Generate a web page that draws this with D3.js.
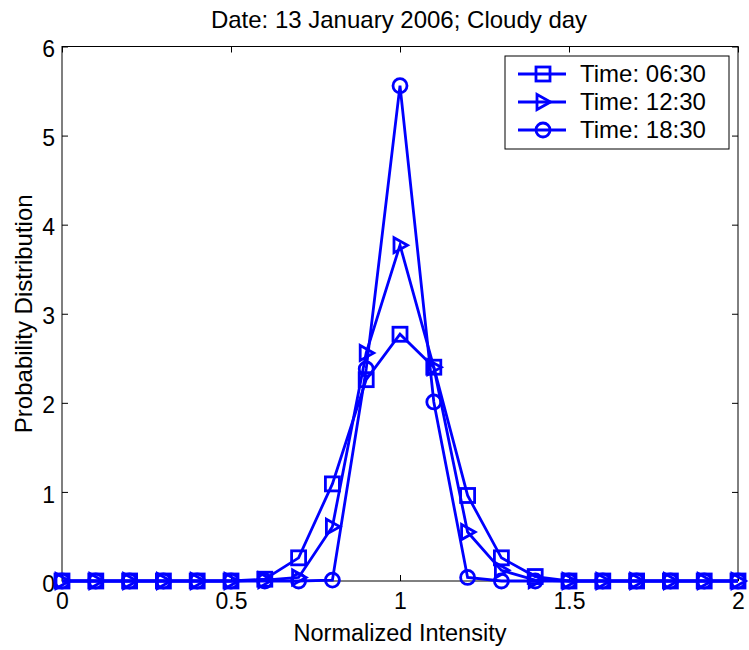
<!DOCTYPE html>
<html>
<head>
<meta charset="utf-8">
<script src="https://cdn.jsdelivr.net/npm/d3@7"></script>
<style>
  body { margin: 0; background: #fff; }
  text { font-family: Arial, "Liberation Sans", sans-serif; fill: #000; }
</style>
</head>
<body>
<svg id="chart" width="749" height="650"></svg>
<script>
// Normalized intensity bins
const intensity = [0, 0.1, 0.2, 0.3, 0.4, 0.5, 0.6, 0.7, 0.8, 0.9, 1.0,
                   1.1, 1.2, 1.3, 1.4, 1.5, 1.6, 1.7, 1.8, 1.9, 2.0];

// Probability distribution per time of day
const time0630 = [0, 0, 0, 0, 0, 0, 0.02, 0.26, 1.09, 2.26, 2.77,
                  2.40, 0.96, 0.26, 0.05, 0, 0, 0, 0, 0, 0];
const time1230 = [0, 0, 0, 0, 0, 0, 0.01, 0.04, 0.61, 2.56, 3.77,
                  2.40, 0.55, 0.12, 0.01, 0, 0, 0, 0, 0, 0];
const time1830 = [0, 0, 0, 0, 0, 0, 0, 0, 0.01, 2.38, 5.56,
                  2.01, 0.04, 0, 0, 0, 0, 0, 0, 0, 0];

const seriesNames = ["Time: 06:30", "Time: 12:30", "Time: 18:30"];
const seriesMarkers = ["square", "triangle", "circle"];
const seriesValues = [time0630, time1230, time1830];

const xTicks = [0, 0.5, 1, 1.5, 2];
const yTicks = [0, 1, 2, 3, 4, 5, 6];

const titleText = "Date: 13 January 2006; Cloudy day";
const xLabel = "Normalized Intensity";
const yLabel = "Probability Distribution";

const svg = d3.select("#chart");
const plotL = 62, plotR = 738, plotT = 46.5, plotB = 581;

const x = d3.scaleLinear().domain([0, 2]).range([plotL, plotR]);
const y = d3.scaleLinear().domain([0, 6]).range([plotB, plotT]);

const blue = "#0000ff";
const tickFont = 23;
const lineW = 2.8;

// Axes box with inward ticks on all four sides
const fmt = d => String(d);
const tickLen = 6;
svg.append("g").attr("transform", `translate(0,${plotB})`)
  .call(d3.axisBottom(x).tickValues(xTicks).tickSize(-tickLen).tickPadding(12).tickFormat(fmt))
  .call(g => g.select(".domain").remove())
  .call(g => g.selectAll("text").attr("font-size", tickFont));
svg.append("g").attr("transform", `translate(0,${plotT})`)
  .call(d3.axisTop(x).tickValues(xTicks).tickSize(-tickLen).tickFormat(""))
  .call(g => g.select(".domain").remove());
svg.append("g").attr("transform", `translate(${plotL},0)`)
  .call(d3.axisLeft(y).tickValues(yTicks).tickSize(-tickLen).tickPadding(7).tickFormat(fmt))
  .call(g => g.select(".domain").remove())
  .call(g => g.selectAll("text").attr("font-size", tickFont).attr("dy", "0.44em"));
svg.append("g").attr("transform", `translate(${plotR},0)`)
  .call(d3.axisRight(y).tickValues(yTicks).tickSize(-tickLen).tickFormat(""))
  .call(g => g.select(".domain").remove());
svg.selectAll(".tick line").attr("stroke", "#000");

svg.append("rect")
  .attr("x", plotL).attr("y", plotT)
  .attr("width", plotR - plotL).attr("height", plotB - plotT)
  .attr("fill", "none").attr("stroke", "#000").attr("stroke-width", 1);

// Marker shapes
function drawMarker(g, type, cx, cy) {
  if (type === "square") {
    g.append("rect").attr("x", cx - 7).attr("y", cy - 7)
      .attr("width", 14).attr("height", 14);
  } else if (type === "triangle") {
    g.append("path").attr("d", `M${cx - 6},${cy - 7.5} L${cx + 7.5},${cy} L${cx - 6},${cy + 7.5} Z`);
  } else {
    g.append("circle").attr("cx", cx).attr("cy", cy).attr("r", 7);
  }
}

const line = d3.line().x((d, i) => x(intensity[i])).y(d => y(d));

seriesValues.forEach((vals, s) => {
  const g = svg.append("g")
    .attr("fill", "none").attr("stroke", blue).attr("stroke-width", lineW);
  g.append("path").datum(vals).attr("d", line).attr("stroke-linejoin", "miter");
  vals.forEach((v, i) => drawMarker(g, seriesMarkers[s], x(intensity[i]), y(v)));
});

// Legend
const lg = svg.append("g");
lg.append("rect").attr("x", 505).attr("y", 56).attr("width", 224).attr("height", 93)
  .attr("fill", "#fff").attr("stroke", "#000").attr("stroke-width", 1);
seriesNames.forEach((name, s) => {
  const ly = 74 + s * 28;
  const g = lg.append("g").attr("fill", "none").attr("stroke", blue).attr("stroke-width", lineW);
  g.append("line").attr("x1", 518).attr("x2", 566).attr("y1", ly).attr("y2", ly);
  drawMarker(g, seriesMarkers[s], 543, ly);
  lg.append("text").attr("x", 580).attr("y", ly).attr("dy", "0.35em")
    .attr("font-size", 24).text(name);
});

// Titles
svg.append("text").attr("x", 399).attr("y", 28)
  .attr("text-anchor", "middle").attr("font-size", 24).text(titleText);
svg.append("text").attr("x", (plotL + plotR) / 2).attr("y", 641)
  .attr("text-anchor", "middle").attr("font-size", 23.5).text(xLabel);
svg.append("text").attr("transform", `translate(32,${(plotT + plotB) / 2}) rotate(-90)`)
  .attr("text-anchor", "middle").attr("font-size", 24).text(yLabel);
</script>
</body>
</html>
